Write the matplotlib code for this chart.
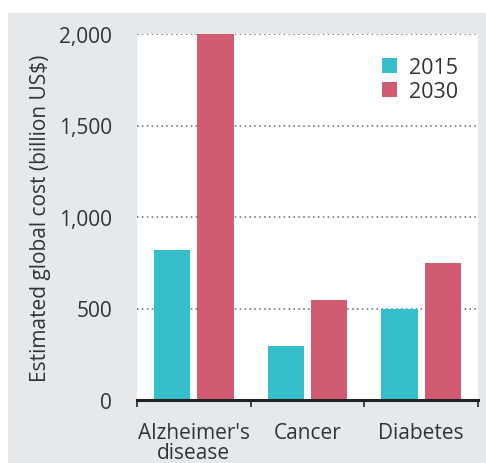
import matplotlib.pyplot as plt
import numpy as np
from matplotlib.patches import Rectangle

categories = ["Alzheimer's\ndisease", "Cancer", "Diabetes"]
years = ["2015", "2030"]
cost_2015 = [820, 295, 500]
cost_2030 = [2000, 548, 750]
yticks = [0, 500, 1000, 1500, 2000]

teal = "#35bfca"
rose = "#d15b70"
txt = "#333333"

plt.rcParams['font.family'] = ['Open Sans', 'DejaVu Sans']

fig = plt.figure(figsize=(4.86, 4.64), dpi=100, facecolor="white")
# grey panel behind everything
fig.patches.append(Rectangle((8 / 486, 0), 1, 450 / 464, transform=fig.transFigure,
                             facecolor="#e6e9ec", edgecolor="none", zorder=-10))

ax = fig.add_axes([137 / 486, 63 / 464, 341 / 486, 366 / 464])
ax.set_facecolor("white")

x = np.arange(len(categories)) + 0.5
w = 0.32
ax.bar(x - 0.19, cost_2015, width=w, color=teal, label=years[0], zorder=3)
ax.bar(x + 0.19, cost_2030, width=w, color=rose, label=years[1], zorder=3)

ax.set_xlim(0, 3)
ax.set_ylim(0, 2000)

for v in yticks[1:]:
    ax.axhline(v, color="#666666", linestyle=(0, (1, 2.2)), linewidth=1.1, zorder=1)

ax.set_yticks(yticks)
ax.set_yticklabels([f"{v:,}" for v in yticks], fontsize=15, color=txt)
ax.tick_params(axis="y", length=0, pad=18)

ax.set_xticks([0, 1, 2, 3])
ax.set_xticklabels([])
ax.tick_params(axis="x", length=5, width=1.2, color="#222222", direction="out")
for xc, lab in zip(x, categories):
    ax.text(xc, -120, lab, ha="center", va="top", fontsize=15, color=txt,
            linespacing=0.95, clip_on=False)

for s in ["top", "right", "left"]:
    ax.spines[s].set_visible(False)
ax.spines["bottom"].set_linewidth(2.2)
ax.spines["bottom"].set_color("#222222")
ax.spines["bottom"].set_zorder(5)

ax.set_ylabel("Estimated global cost (billion US$)", fontsize=15, color=txt, labelpad=6)

leg = ax.legend(loc="upper right", bbox_to_anchor=(1.0, 0.99), frameon=False,
                fontsize=15.5, handlelength=0.7, handleheight=0.7, handletextpad=0.6,
                labelspacing=0.15, labelcolor=txt)

fig.savefig("out.png", dpi=100, facecolor=fig.get_facecolor())
